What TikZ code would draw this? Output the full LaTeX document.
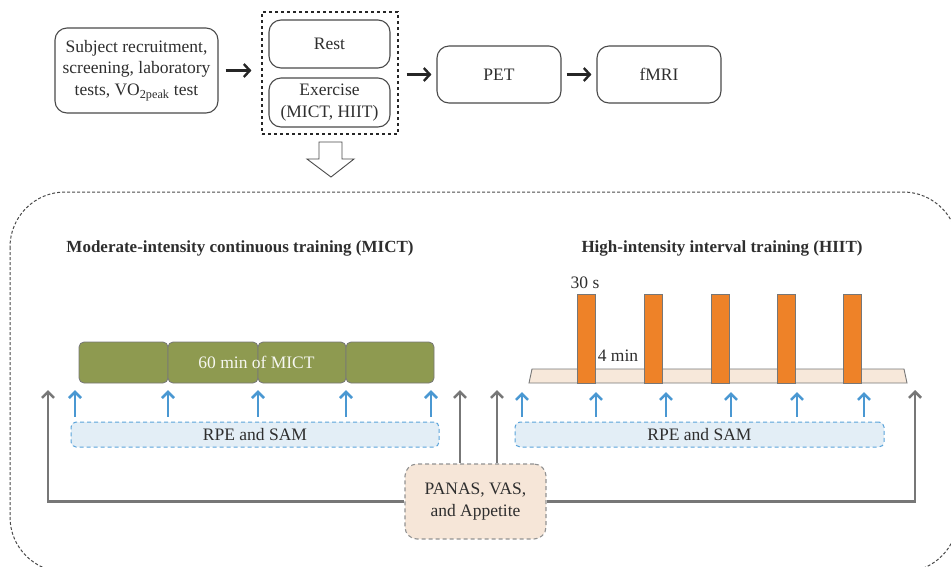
\documentclass[tikz,border=0pt]{standalone}
\usepackage{fontspec}
\setmainfont{Liberation Serif}
\usetikzlibrary{arrows.meta,calc}
\newcommand\myfs{\fontsize{17.5}{21.5}\selectfont}
\definecolor{boxline}{HTML}{4A4A4A}
\definecolor{txt}{HTML}{2E2E2E}
\definecolor{mictgreen}{HTML}{8E9A50}
\definecolor{hiitorange}{HTML}{EE8228}
\definecolor{basefill}{HTML}{F7E8DA}
\definecolor{rpefill}{HTML}{E3EEF6}
\definecolor{rpeline}{HTML}{5AA3DA}
\definecolor{barrowc}{HTML}{4A98D2}
\definecolor{garrowc}{HTML}{777777}
\definecolor{panasfill}{HTML}{F6E6D8}
\begin{document}
\begin{tikzpicture}[x=1pt,y=-1pt,
  stepbox/.style={draw=boxline, line width=1.1pt, rounded corners=12pt, align=center,
    font=\myfs, text=txt, inner sep=0pt},
  blackarrow/.style={draw=black!85, line width=2.4pt, -{Straight Barb[length=6pt,width=13pt]}},
  barrow/.style={draw=barrowc, line width=2.6pt, -{Straight Barb[length=6pt,width=12pt]}},
  garrow/.style={draw=garrowc, line width=2.6pt, -{Straight Barb[length=6pt,width=12pt]}},
  rpebox/.style={draw=rpeline, fill=rpefill, line width=1pt, dash pattern=on 4pt off 3pt,
    rounded corners=5pt, minimum height=25pt, inner sep=0pt, font=\myfs, text=txt},
  title/.style={font=\fontsize{17}{20}\selectfont\bfseries, text=txt},
  seg/.style={fill=mictgreen, draw=garrowc, line width=0.8pt, rounded corners=5pt},
  bar/.style={fill=hiitorange, draw=garrowc, line width=0.9pt},
]
\useasboundingbox (0,0) rectangle (951,566);
\clip (0,0) rectangle (951,566);

% ---------- top flow ----------
\node[stepbox, minimum width=163pt, minimum height=85pt] (recruit) at (136.5,70.5)
  {Subject recruitment,\\screening, laboratory\\tests, VO\textsubscript{2peak} test};
\node[draw=black!85, line width=1.1pt, dashed, minimum width=136pt, minimum height=122pt, inner sep=0pt] (group) at (330,73) {};
\node[stepbox, minimum width=121pt, minimum height=48pt] (rest) at (329.5,44) {Rest};
\node[stepbox, minimum width=121pt, minimum height=49pt] (exer) at (329.5,102.5) {Exercise\\(MICT, HIIT)};
\node[stepbox, minimum width=124pt, minimum height=57pt] (pet) at (499,74.5) {PET};
\node[stepbox, minimum width=124pt, minimum height=57pt] (fmri) at (659,74.5) {fMRI};

\draw[blackarrow, shorten <=7pt, shorten >=10pt] (recruit.east) -- (recruit.east -| group.west);
\draw[blackarrow, shorten <=8pt, shorten >=5pt] (group.east |- pet.west) -- (pet.west);
\draw[blackarrow, shorten <=5pt, shorten >=5pt] (pet.east) -- (fmri.west);

% hollow arrow
\draw[draw=boxline, line width=0.9pt, fill=white]
  (319,142) -- (342,142) -- (342,159) -- (354,159) -- (331,177) -- (307,159) -- (319,159) -- cycle;

% ---------- outer dashed region ----------
\draw[draw=boxline, line width=1pt, dash pattern=on 3pt off 2pt, rounded corners=55pt]
  (10,192) rectangle (958,572);

\node[title] (tmict) at (240,248) {Moderate-intensity continuous training (MICT)};
\node[title] (thiit) at (722,248) {High-intensity interval training (HIIT)};

% ---------- MICT bar ----------
\draw[seg] (79,342) rectangle (168,383);
\draw[seg] (168,342) rectangle (258,383);
\draw[seg] (258,342) rectangle (346,383);
\draw[seg] (346,342) rectangle (434,383);
\node[minimum width=355pt, minimum height=41pt, inner sep=0pt, font=\myfs, text=white!92!mictgreen] (mict) at (256.5,362.5) {60 min of MICT};

\node[rpebox, minimum width=368pt] (rpeM) at (255,434.5) {RPE and SAM};
\foreach \x in {75,168,258,346,431}
  \draw[barrow] ([yshift=5pt]rpeM.north -| \x,0) -- ([yshift=-7pt]mict.south -| \x,0);

% ---------- HIIT ----------
\draw[fill=basefill, draw=garrowc, line width=0.9pt] (529,383) -- (532,369) -- (904,369) -- (907,383) -- cycle;
\coordinate (hbase) at (718,383);
\foreach \x in {577,644,711,777,843}
  \draw[bar] (\x,294) rectangle (\x+18,383);
\node[font=\myfs, text=txt] (t30) at (585,283) {30 s};
\node[font=\myfs, text=txt] (t4) at (618,356) {4 min};

\node[rpebox, minimum width=369pt] (rpeH) at (699.5,434.5) {RPE and SAM};
\foreach \x in {522,596,666,731,797,864}
  \draw[barrow] ([yshift=5pt]rpeH.north -| \x,0) -- ([yshift=-9pt]hbase -| \x,0);

% ---------- PANAS ----------
\node[draw=garrowc!80, fill=panasfill, line width=1.1pt, dash pattern=on 4pt off 3pt, rounded corners=12pt,
  minimum width=141pt, minimum height=75pt, align=center, font=\myfs, text=txt, inner sep=0pt]
  (panas) at (475.5,501.5) {PANAS, VAS,\\and Appetite};

\coordinate (gL) at (48,390);
\coordinate (gM1) at (460,390);
\coordinate (gM2) at (497,390);
\coordinate (gR) at (915,390);
\draw[garrow] (panas.west) -| (gL);
\draw[garrow] (panas.east) -| (gR);
\draw[garrow] (panas.north -| gM1) -- (gM1);
\draw[garrow] (panas.north -| gM2) -- (gM2);
\end{tikzpicture}
\end{document}
